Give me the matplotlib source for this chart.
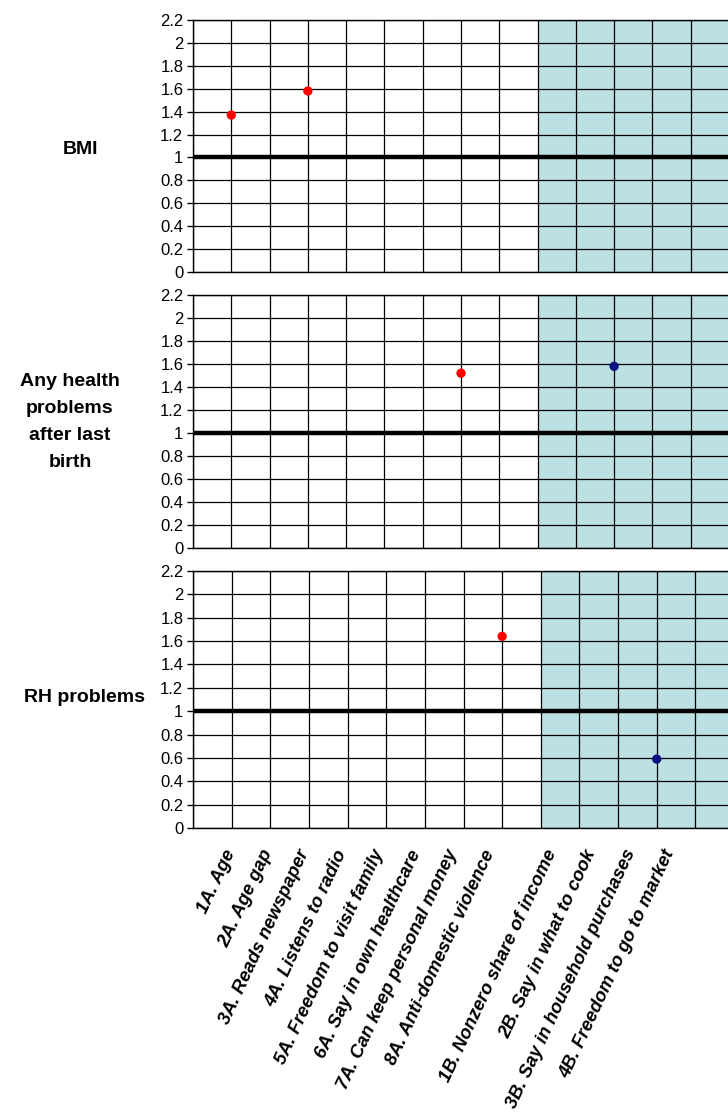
import matplotlib
matplotlib.use("Agg")
import matplotlib.pyplot as plt

# ---- data ----
x_labels = ['', '1A. Age', '2A. Age gap', '3A. Reads newspaper', '4A. Listens to radio',
            '5A. Freedom to visit family', '6A. Say in own healthcare',
            '7A. Can keep personal money', '8A. Anti-domestic violence', '',
            '1B. Nonzero share of income', '2B. Say in what to cook',
            '3B. Say in household purchases', '4B. Freedom to go to market', '']

row_titles = ['BMI', 'Any health\nproblems\nafter last\nbirth', 'RH problems']

bmi_cats = ['1A. Age', '3A. Reads newspaper']
bmi_vals = [1.37, 1.58]
bmi_cols = ['#ff0000', '#ff0000']

health_cats = ['7A. Can keep personal money', '2B. Say in what to cook']
health_vals = [1.52, 1.58]
health_cols = ['#ff0000', '#0a1080']

rh_cats = ['8A. Anti-domestic violence', '3B. Say in household purchases']
rh_vals = [1.64, 0.59]
rh_cols = ['#ff0000', '#0a1080']

y_ticks = [0, 0.2, 0.4, 0.6, 0.8, 1, 1.2, 1.4, 1.6, 1.8, 2, 2.2]
y_tick_labels = ['0', '0.2', '0.4', '0.6', '0.8', '1', '1.2', '1.4', '1.6', '1.8', '2', '2.2']
reference_value = 1.0
shade_start_label = '1B. Nonzero share of income'

panels = [(bmi_cats, bmi_vals, bmi_cols),
          (health_cats, health_vals, health_cols),
          (rh_cats, rh_vals, rh_cols)]

# ---- figure ----
W, H = 728, 1117
fig = plt.figure(figsize=(W / 100, H / 100), dpi=100)
plt.rcParams['font.family'] = ['Liberation Sans', 'DejaVu Sans']

# pixel boxes: (left, top, right, bottom)
boxes = [(193, 20, 729, 272), (193, 295, 729, 548), (193, 571, 734, 828)]
title_pos = [(81, 150), (70, 422), (84, 697)]

n = len(x_labels)
shade_x = x_labels.index(shade_start_label) - 1

axes = []
for i, (box, (cats, vals, cols)) in enumerate(zip(boxes, panels)):
    l, t, r, b = box
    ax = fig.add_axes([l / W, 1 - b / H, (r - l) / W, (b - t) / H])
    axes.append(ax)
    ax.set_xlim(0, n - 1)
    ax.set_ylim(0, 2.2)
    ax.axvspan(shade_x, n - 1, color='#bde0e3', lw=0, zorder=0.5)
    ax.set_xticks(range(n))
    ax.set_xticklabels([])
    ax.tick_params(axis='x', length=0)
    ax.set_yticks(y_ticks)
    ax.set_yticklabels(y_tick_labels, fontsize=12)
    ax.tick_params(axis='y', length=4, width=1, color='black', pad=3)
    ax.grid(True, color='black', lw=0.9)
    for s in ax.spines.values():
        s.set_color('black')
        s.set_linewidth(1)
    ax.axhline(reference_value, color='black', lw=3.2, zorder=2)
    xs = [x_labels.index(c) for c in cats]
    ax.scatter(xs, vals, s=45, c=cols, zorder=4, linewidths=0, clip_on=False)
    tx, ty = title_pos[i]
    fig.text(tx / W, 1 - ty / H, row_titles[i], fontsize=14, fontweight='bold',
             ha='center', va='center', linespacing=1.78)

# category labels under the bottom panel
ax = axes[-1]
trans = ax.get_xaxis_transform()
for idx, lab in enumerate(x_labels):
    if not lab:
        continue
    if idx > shade_x:
        xpos = 9.1 + (idx - shade_x - 1) * 1.02
    else:
        xpos = 0.79 + (idx - 1) * 0.957
    ax.text(xpos, -0.074, lab, transform=trans, rotation=65, rotation_mode='anchor',
            ha='right', va='top', fontsize=13.3, fontweight='bold', fontstyle='italic',
            clip_on=False)

fig.savefig('out.png', dpi=100)
